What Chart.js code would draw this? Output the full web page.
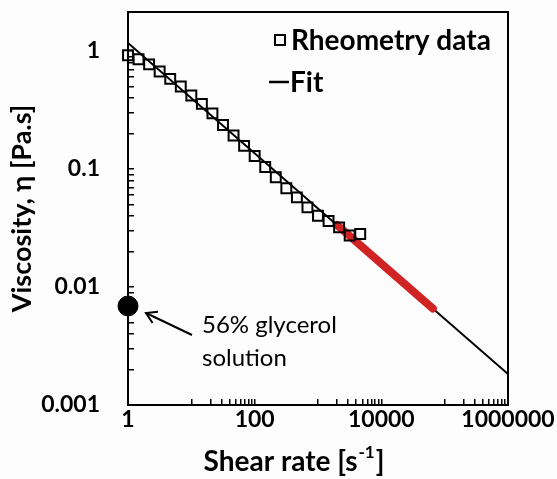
<!DOCTYPE html>
<html>
<head>
<meta charset="utf-8">
<script src="https://cdn.jsdelivr.net/npm/chart.js@4.4.0/dist/chart.umd.min.js"></script>
<style>
  html, body { margin: 0; padding: 0; background: #fdfdfe; }
  #wrap { width: 557px; height: 479px; }
</style>
</head>
<body>
<div id="wrap"><canvas id="viscChart" width="557" height="479"></canvas></div>
<script>
// Rheometry data: shear rate [1/s] and viscosity [Pa.s]
const shearRate = [1, 1.468, 2.154, 3.162, 4.642, 6.813, 10, 14.68, 21.54, 31.62, 46.42, 68.13,
  100, 146.8, 215.4, 316.2, 464.2, 681.3, 1000, 1468, 2154, 3162, 4642];
const viscosity = [0.92, 0.85, 0.77, 0.67, 0.58, 0.50, 0.42, 0.356, 0.296, 0.236, 0.192, 0.157,
  0.129, 0.104, 0.085, 0.0686, 0.0575, 0.0473, 0.0402, 0.0362, 0.032, 0.0273, 0.0281];

// power law fit (end points)
const fitRate = [1, 1000000];
const fitVisc = [1.17, 0.00183];

// highlighted part of the fit (red)
const rangeRate = [2000, 65000];
const rangeVisc = [0.0335, 0.00658];

// 56% glycerol solution
const glycerolRate = [1];
const glycerolVisc = [0.0069];

// axis labels
const xLabelTicks = [1, 100, 10000, 1000000];
const yLabelTicks = [0.001, 0.01, 0.1, 1];

const FONT = 'Lato, "Open Sans", sans-serif';

function toPoints(xs, ys) {
    return xs.map((x, i) => ({ x: x, y: ys[i] }));
}

// tick mark positions: y in base 10 with minor 2..9, x in base 100 with minor every 10
function yTickMarks() {
    const marks = [];
    for (let n = -3; n < 0; n++) {
        for (let k = 1; k <= 9; k++) marks.push(k * Math.pow(10, n));
    }
    marks.push(1);
    return marks;
}
function xTickMarks() {
    const marks = [1];
    for (let n = 0; n < 3; n++) {
        for (let k = 1; k <= 10; k++) marks.push(Math.pow(100, n) * 10 * k);
    }
    return marks;
}

function labelOnly(list) {
    return function (value) {
        return list.some(v => Math.abs(v - value) / v < 1e-6) ? String(value) : '';
    };
}

const blackBorder = { display: true, color: '#000', width: 2 };
const inwardTicks = {
    display: true,
    drawOnChartArea: false,
    drawTicks: true,
    tickLength: -6,
    color: '#000',
    lineWidth: 1.5
};

// legend, annotation and x title
const extras = {
    id: 'extras',
    afterDraw(chart) {
        const ctx = chart.ctx;
        const xs = chart.scales.x;
        const ys = chart.scales.y;
        ctx.save();
        ctx.strokeStyle = '#000';
        ctx.fillStyle = '#000';

        // legend
        ctx.lineWidth = 2;
        ctx.strokeRect(275, 35, 10, 10);
        ctx.lineWidth = 2.5;
        ctx.beginPath();
        ctx.moveTo(269, 82);
        ctx.lineTo(289, 82);
        ctx.stroke();
        ctx.font = 'bold 28px ' + FONT;
        ctx.textBaseline = 'middle';
        ctx.textAlign = 'left';
        ctx.fillText('Rheometry data', 291, 41);
        ctx.fillText('Fit', 290, 83);

        // annotation arrow to the glycerol point
        const gx = xs.getPixelForValue(glycerolRate[0]);
        const gy = ys.getPixelForValue(glycerolVisc[0]);
        const tipX = gx + 18, tipY = gy + 7;
        const tailX = gx + 64, tailY = gy + 29;
        ctx.lineWidth = 2;
        ctx.beginPath();
        ctx.moveTo(tailX, tailY);
        ctx.lineTo(tipX, tipY);
        ctx.stroke();
        const ang = Math.atan2(tipY - tailY, tipX - tailX);
        ctx.beginPath();
        ctx.moveTo(tipX + 12 * Math.cos(ang + 2.6), tipY + 12 * Math.sin(ang + 2.6));
        ctx.lineTo(tipX, tipY);
        ctx.lineTo(tipX + 12 * Math.cos(ang - 2.6), tipY + 12 * Math.sin(ang - 2.6));
        ctx.stroke();
        ctx.font = '24px ' + FONT;
        ctx.fillText('56% glycerol', gx + 74, gy + 19);
        ctx.fillText('solution', gx + 74, gy + 52);

        // x axis title with superscript
        ctx.font = 'bold 28px ' + FONT;
        const t1 = 'Shear rate [s';
        const t3 = ']';
        const w1 = ctx.measureText(t1).width;
        const w3 = ctx.measureText(t3).width;
        ctx.font = 'bold 17px ' + FONT;
        const t2 = '-1';
        const w2 = ctx.measureText(t2).width;
        const total = w1 + w2 + w3 + 2;
        const x0 = 294 - total / 2;
        const yb = 462;
        ctx.font = 'bold 28px ' + FONT;
        ctx.fillText(t1, x0, yb);
        ctx.font = 'bold 17px ' + FONT;
        ctx.fillText(t2, x0 + w1 + 1, yb - 9);
        ctx.font = 'bold 28px ' + FONT;
        ctx.fillText(t3, x0 + w1 + w2 + 2, yb);

        ctx.restore();
    }
};

const chart = new Chart(document.getElementById('viscChart').getContext('2d'), {
    type: 'scatter',
    data: {
        datasets: [
            {
                label: 'Rheometry data',
                data: toPoints(shearRate, viscosity),
                showLine: false,
                pointStyle: 'rect',
                pointRadius: 7,
                pointBorderWidth: 2,
                pointBorderColor: '#000',
                pointBackgroundColor: 'rgba(0,0,0,0)',
                clip: false,
                order: 1
            },
            {
                label: 'Fit',
                data: toPoints(fitRate, fitVisc),
                showLine: true,
                borderColor: '#000',
                borderWidth: 2,
                pointRadius: 0,
                order: 3
            },
            {
                label: 'Range',
                data: toPoints(rangeRate, rangeVisc),
                showLine: true,
                borderColor: 'rgb(208, 36, 36)',
                borderWidth: 8,
                borderCapStyle: 'round',
                pointRadius: 0,
                order: 2
            },
            {
                label: '56% glycerol solution',
                data: toPoints(glycerolRate, glycerolVisc),
                pointStyle: 'circle',
                pointRadius: 10,
                pointBackgroundColor: '#000',
                pointBorderColor: '#000',
                clip: false,
                order: 0
            }
        ]
    },
    options: {
        responsive: false,
        animation: false,
        devicePixelRatio: 1,
        layout: { padding: { left: 0, top: 12, right: 49, bottom: 0 } },
        plugins: {
            legend: { display: false },
            tooltip: { enabled: false }
        },
        scales: {
            x: {
                type: 'logarithmic',
                position: 'bottom',
                min: 1,
                max: 1000000,
                grid: inwardTicks,
                border: blackBorder,
                afterBuildTicks: function (scale) {
                    scale.ticks = xTickMarks().map(v => ({ value: v }));
                },
                afterFit: function (scale) {
                    scale.height = 74;
                    scale.paddingLeft = 0;
                    scale.paddingRight = 0;
                },
                ticks: {
                    autoSkip: false,
                    maxRotation: 0,
                    padding: 7,
                    color: '#000',
                    font: { family: FONT, size: 23, weight: 'bold' },
                    callback: labelOnly(xLabelTicks)
                }
            },
            xTop: {
                type: 'logarithmic',
                position: 'top',
                axis: 'x',
                min: 1,
                max: 1000000,
                grid: { display: false, drawTicks: false },
                border: blackBorder,
                ticks: { display: false },
                afterFit: function (scale) {
                    scale.height = 0;
                    scale.paddingLeft = 0;
                    scale.paddingRight = 0;
                }
            },
            y: {
                type: 'logarithmic',
                position: 'left',
                min: 0.001,
                max: 2.14,
                grid: inwardTicks,
                border: blackBorder,
                afterBuildTicks: function (scale) {
                    scale.ticks = yTickMarks().map(v => ({ value: v }));
                },
                afterFit: function (scale) {
                    scale.width = 128;
                    scale.paddingTop = 0;
                    scale.paddingBottom = 0;
                },
                title: {
                    display: true,
                    text: 'Viscosity, η [Pa.s]',
                    color: '#000',
                    padding: { top: 6, bottom: 0 },
                    font: { family: FONT, size: 27, weight: 'bold' }
                },
                ticks: {
                    autoSkip: false,
                    padding: 34,
                    color: '#000',
                    font: { family: FONT, size: 23, weight: 'bold' },
                    callback: labelOnly(yLabelTicks)
                }
            },
            yRight: {
                type: 'logarithmic',
                position: 'right',
                axis: 'y',
                min: 0.001,
                max: 2.14,
                grid: { display: false, drawTicks: false },
                border: blackBorder,
                ticks: { display: false },
                afterFit: function (scale) {
                    scale.width = 0;
                    scale.paddingTop = 0;
                    scale.paddingBottom = 0;
                }
            }
        }
    },
    plugins: [extras]
});
</script>
</body>
</html>
